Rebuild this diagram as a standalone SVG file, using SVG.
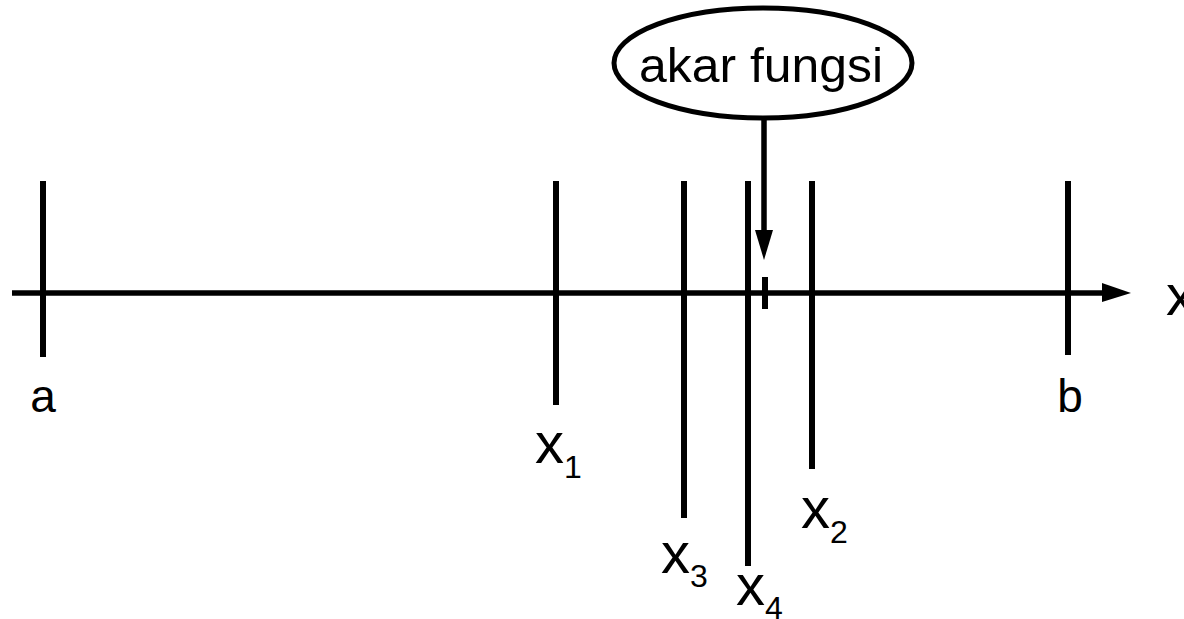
<svg xmlns="http://www.w3.org/2000/svg" width="1184" height="619" viewBox="0 0 1184 619">
<style>
.ln{stroke:#000;stroke-width:5.5;fill:none}
.tk{stroke:#000;stroke-width:6;fill:none}
.t{font-family:"Liberation Sans",Arial,sans-serif;fill:#000}
.big{font-size:58px}
.sub{font-size:32px}
.lbl{font-size:46px}
</style>
<rect width="1184" height="619" fill="#fff"/>
<g id="connectors">
<line class="ln" x1="12" y1="293" x2="1104" y2="293"/>
<polygon points="1102,283 1131,293 1102,302" fill="#000"/>
<line class="ln" x1="764" y1="120" x2="764" y2="232"/>
<polygon points="755,230 773,230 764,260" fill="#000"/>
</g>
<g id="tick-a"><line class="tk" x1="43" y1="181" x2="43" y2="357"/><text class="t lbl" x="43" y="412" text-anchor="middle">a</text></g>
<g id="tick-x1"><line class="tk" x1="556" y1="181" x2="556" y2="405"/><text class="t" x="535" y="463"><tspan class="big">x</tspan><tspan class="sub" dy="15">1</tspan></text></g>
<g id="tick-x3"><line class="tk" x1="684" y1="181" x2="684" y2="518"/><text class="t" x="661" y="573"><tspan class="big">x</tspan><tspan class="sub" dy="14">3</tspan></text></g>
<g id="tick-x4"><line class="tk" x1="748" y1="181" x2="748" y2="566"/><text class="t" x="736" y="605"><tspan class="big">x</tspan><tspan class="sub" dy="14">4</tspan></text></g>
<g id="tick-x2"><line class="tk" x1="812" y1="181" x2="812" y2="469"/><text class="t" x="801" y="528"><tspan class="big">x</tspan><tspan class="sub" dy="15">2</tspan></text></g>
<g id="tick-b"><line class="tk" x1="1068" y1="181" x2="1068" y2="355"/><text class="t lbl" x="1070" y="412" text-anchor="middle">b</text></g>
<g id="root"><line class="tk" x1="765" y1="277" x2="765" y2="309"/></g>
<g id="axis-label"><text class="t big" x="1166" y="315">x</text></g>
<g id="akar-fungsi">
<ellipse cx="763" cy="63" rx="149" ry="55" fill="#fff" stroke="#000" stroke-width="5"/>
<text class="t" x="761" y="82" font-size="48" text-anchor="middle" textLength="244" lengthAdjust="spacingAndGlyphs">akar fungsi</text>
</g>
</svg>
